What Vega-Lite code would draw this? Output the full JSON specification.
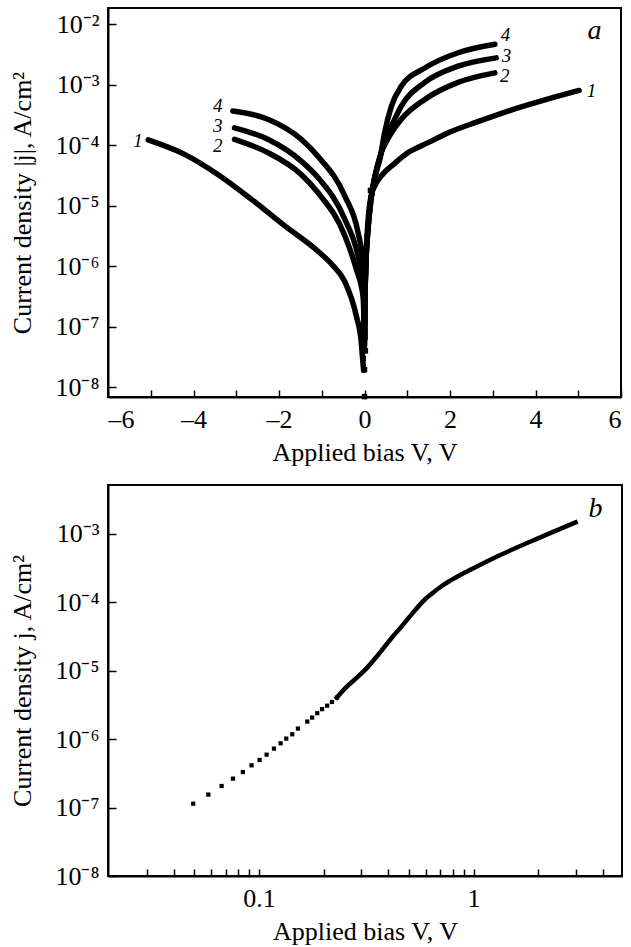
{
  "$schema": "https://vega.github.io/schema/vega-lite/v6.json",
  "background": "white",
  "padding": {"left": 8, "top": 7, "right": 8, "bottom": 0},
  "spacing": 18,
  "config": {
    "font": "Liberation Serif",
    "view": {"stroke": "black", "strokeWidth": 2},
    "axis": {
      "grid": false,
      "domainColor": "black",
      "domainWidth": 2,
      "tickColor": "black",
      "tickWidth": 1.5,
      "tickSize": -8,
      "labelPadding": 17,
      "labelFont": "Liberation Serif",
      "labelFontSize": 26,
      "labelColor": "black",
      "titleFont": "Liberation Serif",
      "titleFontSize": 26,
      "titleFontWeight": "normal",
      "titleColor": "black"
    }
  },
  "datasets": {
    "curvesA": [
      {"s": "1n", "V": -5.06, "J": 1.23e-4},
      {"s": "1n", "V": -4.21, "J": 7.1e-5},
      {"s": "1n", "V": -3.43, "J": 3.3e-5},
      {"s": "1n", "V": -2.65, "J": 1.29e-5},
      {"s": "1n", "V": -1.87, "J": 4.7e-6},
      {"s": "1n", "V": -1.09, "J": 1.78e-6},
      {"s": "1n", "V": -0.75, "J": 1.05e-6},
      {"s": "1n", "V": -0.46, "J": 5.6e-7},
      {"s": "1n", "V": -0.19, "J": 1.5e-7},
      {"s": "1n", "V": -0.075, "J": 5.5e-8},
      {"s": "1n", "V": -0.05, "J": 3.3e-8},
      {"s": "1n", "V": -0.02, "J": 1.9e-8},
      {"s": "2n", "V": -3.04, "J": 1.26e-4},
      {"s": "2n", "V": -2.26, "J": 7.6e-5},
      {"s": "2n", "V": -1.48, "J": 3.3e-5},
      {"s": "2n", "V": -1.09, "J": 1.66e-5},
      {"s": "2n", "V": -0.46, "J": 3.2e-6},
      {"s": "2n", "V": -0.19, "J": 8.9e-7},
      {"s": "2n", "V": -0.035, "J": 3.2e-7},
      {"s": "2n", "V": -0.01, "J": 1.0e-7},
      {"s": "2n", "V": -0.003, "J": 4.0e-8},
      {"s": "3n", "V": -3.04, "J": 1.95e-4},
      {"s": "3n", "V": -2.26, "J": 1.26e-4},
      {"s": "3n", "V": -1.48, "J": 5.5e-5},
      {"s": "3n", "V": -1.09, "J": 2.95e-5},
      {"s": "3n", "V": -0.46, "J": 6.0e-6},
      {"s": "3n", "V": -0.15, "J": 1.48e-6},
      {"s": "3n", "V": -0.035, "J": 5.4e-7},
      {"s": "3n", "V": -0.01, "J": 1.6e-7},
      {"s": "3n", "V": -0.003, "J": 5.0e-8},
      {"s": "4n", "V": -3.08, "J": 3.7e-4},
      {"s": "4n", "V": -2.26, "J": 2.7e-4},
      {"s": "4n", "V": -1.48, "J": 1.26e-4},
      {"s": "4n", "V": -1.09, "J": 6.6e-5},
      {"s": "4n", "V": -0.46, "J": 1.45e-5},
      {"s": "4n", "V": -0.15, "J": 3.6e-6},
      {"s": "4n", "V": -0.035, "J": 1.15e-6},
      {"s": "4n", "V": -0.01, "J": 2.5e-7},
      {"s": "4n", "V": -0.003, "J": 6.3e-8},
      {"s": "1p", "V": 0.003, "J": 5.0e-8},
      {"s": "1p", "V": 0.01, "J": 2.5e-7},
      {"s": "1p", "V": 0.03, "J": 1.0e-6},
      {"s": "1p", "V": 0.06, "J": 3.2e-6},
      {"s": "1p", "V": 0.1, "J": 7.9e-6},
      {"s": "1p", "V": 0.15, "J": 1.4e-5},
      {"s": "1p", "V": 0.25, "J": 2.2e-5},
      {"s": "1p", "V": 0.39, "J": 3.1e-5},
      {"s": "1p", "V": 0.7, "J": 5.0e-5},
      {"s": "1p", "V": 1.02, "J": 7.6e-5},
      {"s": "1p", "V": 1.5, "J": 1.12e-4},
      {"s": "1p", "V": 2.03, "J": 1.7e-4},
      {"s": "1p", "V": 2.6, "J": 2.4e-4},
      {"s": "1p", "V": 3.36, "J": 3.7e-4},
      {"s": "1p", "V": 4.2, "J": 5.6e-4},
      {"s": "1p", "V": 5.02, "J": 8.1e-4},
      {"s": "2p", "V": 0.003, "J": 6.3e-8},
      {"s": "2p", "V": 0.01, "J": 2.5e-7},
      {"s": "2p", "V": 0.03, "J": 1.0e-6},
      {"s": "2p", "V": 0.08, "J": 4.0e-6},
      {"s": "2p", "V": 0.15, "J": 1.26e-5},
      {"s": "2p", "V": 0.25, "J": 3.16e-5},
      {"s": "2p", "V": 0.4, "J": 7.9e-5},
      {"s": "2p", "V": 0.5, "J": 1.12e-4},
      {"s": "2p", "V": 0.63, "J": 1.62e-4},
      {"s": "2p", "V": 0.86, "J": 2.7e-4},
      {"s": "2p", "V": 1.41, "J": 5.75e-4},
      {"s": "2p", "V": 2.19, "J": 1.1e-3},
      {"s": "2p", "V": 3.05, "J": 1.58e-3},
      {"s": "3p", "V": 0.003, "J": 6.3e-8},
      {"s": "3p", "V": 0.01, "J": 2.5e-7},
      {"s": "3p", "V": 0.03, "J": 1.0e-6},
      {"s": "3p", "V": 0.08, "J": 4.0e-6},
      {"s": "3p", "V": 0.15, "J": 1.26e-5},
      {"s": "3p", "V": 0.25, "J": 3.16e-5},
      {"s": "3p", "V": 0.38, "J": 7.1e-5},
      {"s": "3p", "V": 0.5, "J": 1.41e-4},
      {"s": "3p", "V": 0.63, "J": 2.1e-4},
      {"s": "3p", "V": 0.86, "J": 4.47e-4},
      {"s": "3p", "V": 1.41, "J": 1.1e-3},
      {"s": "3p", "V": 2.19, "J": 2.04e-3},
      {"s": "3p", "V": 3.08, "J": 2.8e-3},
      {"s": "4p", "V": 0.003, "J": 6.3e-8},
      {"s": "4p", "V": 0.01, "J": 2.5e-7},
      {"s": "4p", "V": 0.03, "J": 1.0e-6},
      {"s": "4p", "V": 0.08, "J": 4.0e-6},
      {"s": "4p", "V": 0.15, "J": 1.26e-5},
      {"s": "4p", "V": 0.25, "J": 3.16e-5},
      {"s": "4p", "V": 0.36, "J": 5.9e-5},
      {"s": "4p", "V": 0.47, "J": 1.62e-4},
      {"s": "4p", "V": 0.63, "J": 4.47e-4},
      {"s": "4p", "V": 0.86, "J": 9.5e-4},
      {"s": "4p", "V": 1.41, "J": 1.9e-3},
      {"s": "4p", "V": 2.19, "J": 3.4e-3},
      {"s": "4p", "V": 3.05, "J": 4.7e-3}
    ],
    "dotsA": [
      {"V": 0.0, "J": 1.95e-8},
      {"V": 0.0, "J": 7.0e-9},
      {"V": 0.14, "J": 1.8e-5},
      {"V": -0.03, "J": 3.0e-8},
      {"V": 0.02, "J": 4.0e-8}
    ],
    "labelsA": [
      {"V": -5.3, "J": 1.17e-4, "t": "1"},
      {"V": -3.43, "J": 4.4e-4, "t": "4"},
      {"V": -3.43, "J": 2.1e-4, "t": "3"},
      {"V": -3.43, "J": 9.8e-5, "t": "2"},
      {"V": 3.3, "J": 6.6e-3, "t": "4"},
      {"V": 3.32, "J": 3.0e-3, "t": "3"},
      {"V": 3.28, "J": 1.4e-3, "t": "2"},
      {"V": 5.31, "J": 7.9e-4, "t": "1"}
    ],
    "sparseB": [
      {"V": 0.0494, "J": 1.14e-7},
      {"V": 0.0581, "J": 1.55e-7},
      {"V": 0.067, "J": 2.07e-7},
      {"V": 0.0757, "J": 2.65e-7},
      {"V": 0.0842, "J": 3.31e-7},
      {"V": 0.0924, "J": 4.15e-7},
      {"V": 0.1007, "J": 4.97e-7},
      {"V": 0.1086, "J": 5.94e-7},
      {"V": 0.1175, "J": 7.28e-7},
      {"V": 0.1262, "J": 8.71e-7},
      {"V": 0.134, "J": 1.02e-6},
      {"V": 0.143, "J": 1.18e-6},
      {"V": 0.152, "J": 1.43e-6},
      {"V": 0.168, "J": 1.81e-6},
      {"V": 0.177, "J": 2.07e-6},
      {"V": 0.187, "J": 2.4e-6},
      {"V": 0.197, "J": 2.75e-6},
      {"V": 0.208, "J": 3.09e-6},
      {"V": 0.219, "J": 3.5e-6},
      {"V": 0.231, "J": 4.07e-6}
    ],
    "denseB": [
      {"V": 0.231, "J": 4.07e-6},
      {"V": 0.25, "J": 5.4e-6},
      {"V": 0.292, "J": 8.4e-6},
      {"V": 0.314, "J": 1.05e-5},
      {"V": 0.35, "J": 1.55e-5},
      {"V": 0.418, "J": 3.1e-5},
      {"V": 0.449, "J": 4.0e-5},
      {"V": 0.5, "J": 6.0e-5},
      {"V": 0.597, "J": 1.12e-4},
      {"V": 0.641, "J": 1.35e-4},
      {"V": 0.714, "J": 1.75e-4},
      {"V": 0.767, "J": 2.02e-4},
      {"V": 0.855, "J": 2.45e-4},
      {"V": 1.0, "J": 3.16e-4},
      {"V": 1.31, "J": 4.8e-4},
      {"V": 1.87, "J": 7.9e-4},
      {"V": 2.99, "J": 1.48e-3}
    ]
  },
  "vconcat": [
    {
      "width": 513,
      "height": 389,
      "layer": [
        {
          "mark": {"type": "rule", "color": "black", "strokeWidth": 1},
          "encoding": {"x": {"datum": 0}}
        },
        {
          "data": {"name": "curvesA"},
          "mark": {"type": "line", "color": "black", "strokeWidth": 5.5, "strokeCap": "round", "strokeJoin": "round", "interpolate": "monotone"},
          "encoding": {
            "x": {
              "field": "V", "type": "quantitative",
              "scale": {"domain": [-6, 6], "nice": false},
              "axis": {
                "title": "Applied bias V, V",
                "values": [-6, -5, -4, -3, -2, -1, 0, 1, 2, 3, 4, 5, 6],
                "labelExpr": "datum.value % 2 == 0 ? (datum.value < 0 ? '–' + abs(datum.value) : '' + datum.value) : ''",
                "tickSize": -7,
                "labelPadding": 16,
                "titlePadding": 7
              }
            },
            "y": {
              "field": "J", "type": "quantitative",
              "scale": {"type": "log", "domain": [6.9e-9, 1.87e-2], "nice": false},
              "axis": {
                "title": "Current density |j|, A/cm²",
                "values": [1e-8, 1e-7, 1e-6, 1e-5, 1e-4, 1e-3, 1e-2],
                "labelExpr": "['10⁻⁸','10⁻⁷','10⁻⁶','10⁻⁵','10⁻⁴','10⁻³','10⁻²'][round(log(datum.value)/LN10)+8]",
                "titlePadding": 19
              }
            },
            "detail": {"field": "s"}
          }
        },
        {
          "data": {"name": "dotsA"},
          "mark": {"type": "point", "shape": "square", "filled": true, "color": "black", "size": 30, "opacity": 1},
          "encoding": {
            "x": {"field": "V", "type": "quantitative"},
            "y": {"field": "J", "type": "quantitative"}
          }
        },
        {
          "data": {"name": "labelsA"},
          "mark": {"type": "text", "font": "Liberation Serif", "fontStyle": "italic", "fontSize": 19, "color": "black", "align": "center", "baseline": "middle"},
          "encoding": {
            "x": {"field": "V", "type": "quantitative"},
            "y": {"field": "J", "type": "quantitative"},
            "text": {"field": "t"}
          }
        },
        {
          "data": {"values": [{"V": 5.38, "J": 7.8e-3, "t": "a"}]},
          "mark": {"type": "text", "font": "Liberation Serif", "fontStyle": "italic", "fontSize": 28, "color": "black", "align": "center", "baseline": "middle"},
          "encoding": {
            "x": {"field": "V", "type": "quantitative"},
            "y": {"field": "J", "type": "quantitative"},
            "text": {"field": "t"}
          }
        }
      ]
    },
    {
      "width": 514,
      "height": 391,
      "layer": [
        {
          "data": {"name": "denseB"},
          "mark": {"type": "line", "color": "black", "strokeWidth": 4.5, "strokeCap": "square", "interpolate": "monotone"},
          "encoding": {
            "x": {
              "field": "V", "type": "quantitative",
              "scale": {"type": "log", "domain": [0.0198, 4.92], "nice": false},
              "axis": {
                "title": "Applied bias V, V",
                "values": [0.03, 0.04, 0.05, 0.06, 0.07, 0.08, 0.09, 0.1, 0.2, 0.3, 0.4, 0.5, 0.6, 0.7, 0.8, 0.9, 1, 2, 3, 4],
                "labelExpr": "datum.value == 0.1 ? '0.1' : (datum.value == 1 ? '1' : '')",
                "tickSize": -7,
                "labelPadding": 16,
                "titlePadding": 7
              }
            },
            "y": {
              "field": "J", "type": "quantitative",
              "scale": {"type": "log", "domain": [1e-8, 5.2e-3], "nice": false},
              "axis": {
                "title": "Current density j, A/cm²",
                "values": [1e-8, 1e-7, 1e-6, 1e-5, 1e-4, 1e-3],
                "labelExpr": "['10⁻⁸','10⁻⁷','10⁻⁶','10⁻⁵','10⁻⁴','10⁻³'][round(log(datum.value)/LN10)+8]",
                "titlePadding": 19
              }
            }
          }
        },
        {
          "data": {"name": "sparseB"},
          "mark": {"type": "point", "shape": "square", "filled": true, "color": "black", "size": 18, "opacity": 1},
          "encoding": {
            "x": {"field": "V", "type": "quantitative"},
            "y": {"field": "J", "type": "quantitative"}
          }
        },
        {
          "data": {"values": [{"V": 3.7, "J": 2.32e-3, "t": "b"}]},
          "mark": {"type": "text", "font": "Liberation Serif", "fontStyle": "italic", "fontSize": 28, "color": "black", "align": "center", "baseline": "middle"},
          "encoding": {
            "x": {"field": "V", "type": "quantitative"},
            "y": {"field": "J", "type": "quantitative"},
            "text": {"field": "t"}
          }
        }
      ]
    }
  ]
}
